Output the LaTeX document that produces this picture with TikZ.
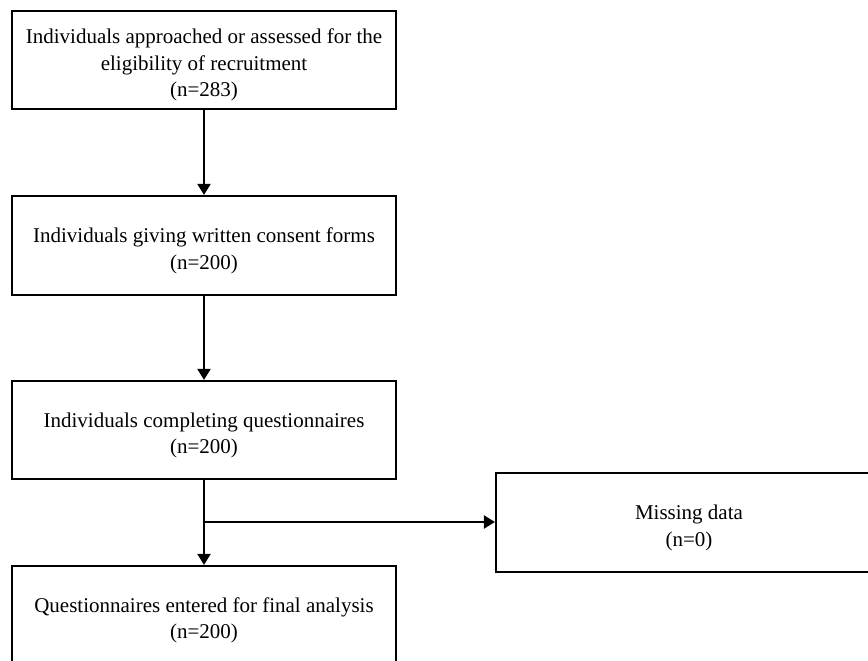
\documentclass[tikz,border=0pt]{standalone}
\usepackage{fontspec}
\setmainfont{Liberation Serif}
\usetikzlibrary{arrows.meta}
\newcommand{\lowr}{\rule{0pt}{25pt}}
\begin{document}
\begin{tikzpicture}[x=1pt,y=-1pt,
  stepbox/.style={draw=black,line width=2.2pt,minimum width=384pt,align=center,
    font=\fontsize{21}{26.5}\selectfont,inner sep=0pt},
  flow/.style={line width=2.2pt,-{Triangle[length=11pt,width=13pt]}}]
\useasboundingbox (0,0) rectangle (868,661);
\clip (0,0) rectangle (868,661);
\node[stepbox,minimum height=98pt] (b1) at (204,60) {\lowr Individuals approached or assessed for the\\eligibility of recruitment\\(n=283)};
\node[stepbox,minimum height=99pt] (b2) at (204,245.5) {\lowr Individuals giving written consent forms\\(n=200)};
\node[stepbox,minimum height=98pt] (b3) at (204,430) {\lowr Individuals completing questionnaires\\(n=200)};
\node[stepbox,minimum height=98pt] (b4) at (204,615) {\lowr Questionnaires entered for final analysis\\(n=200)};
\node[stepbox,minimum height=99pt,minimum width=386pt] (m) at (689,522.5) {\lowr Missing data\\(n=0)};
\coordinate (br) at (204,522);
\draw[flow] (b1) -- (b2);
\draw[flow] (b2) -- (b3);
\draw[flow] (b3) -- (b4);
\draw[flow] (br) -- (br -| m.west);
\end{tikzpicture}
\end{document}
